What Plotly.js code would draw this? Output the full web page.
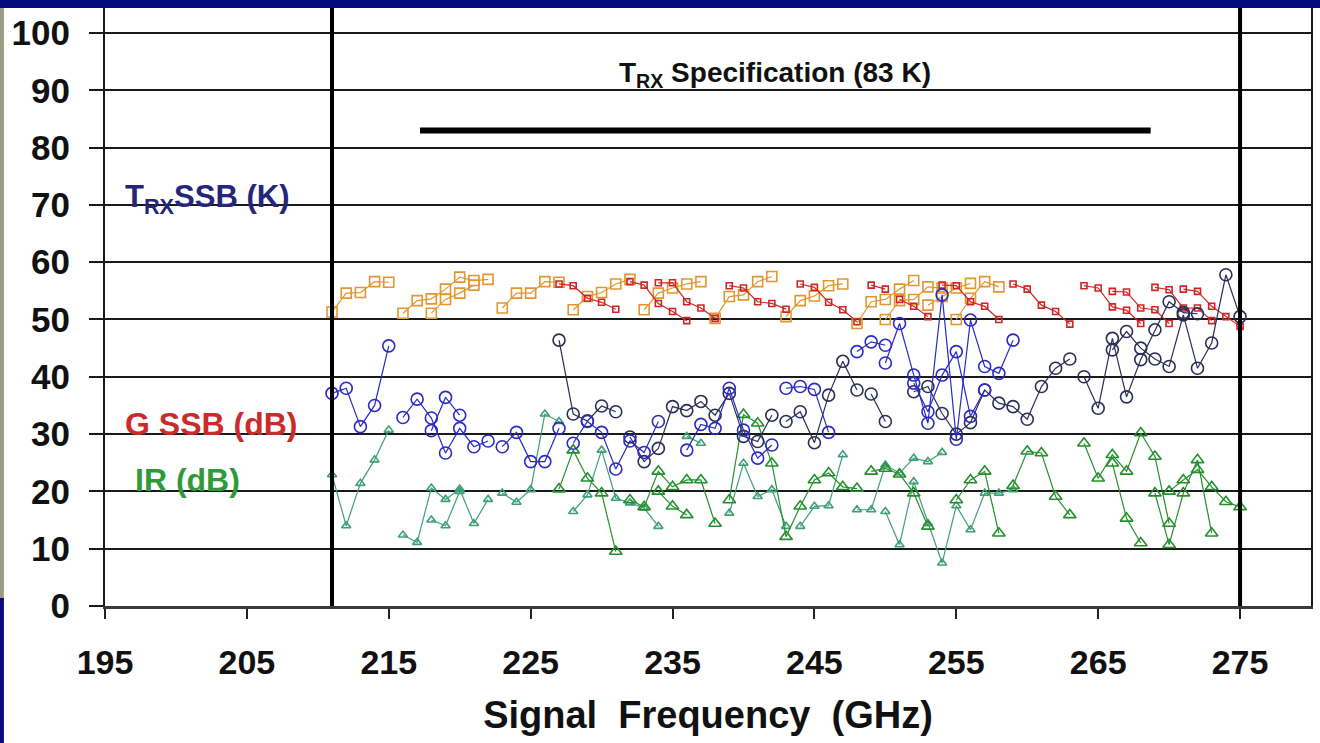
<!DOCTYPE html>
<html>
<head>
<meta charset="utf-8">
<script src="https://cdn.plot.ly/plotly-3.0.1.min.js"></script>
<style>
  html, body { margin: 0; padding: 0; background: #ffffff; }
  #chart { width: 1320px; height: 743px; }
</style>
</head>
<body>
<div id="chart"></div>
<script>
// ---------------- DATA ----------------
// null separates individual LO sweeps (line segments)

// Receiver noise temperature T_RX SSB (K), bright blue sweeps
const trxBlueGHz = [211,212,213,214,215,null, 216,217,218,219,220,221,222,null, 218,219,220,null,
  223,224,225,226,227,null, 228,229,230,231,232,233,234,null, 236,237,238,239,240,241,242,null,
  243,244,245,246,null, 248,249,250,null, 250,251,252,253,254,255,256,257,258,259,null,
  252,253,254,255,256,257];
const trxBlueK = [37.1,38.0,31.3,35.0,45.4,null, 32.9,36.1,32.8,26.7,31.0,27.8,28.8,null, 30.6,36.4,33.3,null,
  27.8,30.3,25.2,25.2,31.0,null, 28.4,32.2,30.3,23.9,28.8,26.8,32.2,null, 27.2,31.7,31.0,38.0,30.7,25.8,28.1,null,
  38.0,38.3,37.8,30.3,null, 44.4,46.1,45.5,null, 42.4,49.3,40.3,31.9,54.3,29.1,49.9,41.8,40.6,46.4,null,
  38.9,33.9,40.3,44.4,33.1,37.7];

// T_RX SSB (K), dark navy sweeps
const trxDarkGHz = [227,228,229,230,231,null, 232,233,234,235,236,237,238,239,240,241,242,null,
  243,244,245,246,247,248,null, 249,250,null, 252,253,254,255,256,257,258,259,260,261,262,263,null,
  264,265,266,267,268,269,270,271,272,null, 266,267,268,269,270,271,272,273,274,275];
const trxDarkK = [46.4,33.5,32.3,34.9,33.9,null, 29.5,25.2,27.5,34.8,34.1,35.7,33.3,37.1,29.6,28.7,33.3,null,
  32.2,33.9,28.5,36.8,42.7,37.7,null, 37.0,32.2,null, 37.4,38.3,33.6,30.0,32.0,37.7,35.4,34.8,32.6,38.3,41.5,43.1,null,
  40.0,34.5,46.7,36.5,43.0,48.2,53.1,51.2,51.0,null, 44.7,47.9,45.0,43.1,41.8,50.8,41.5,45.9,57.8,50.5];

// Gain G SSB (dB), orange sweeps
const gainOrangeGHz = [211,212,213,214,215,null, 216,217,218,219,220,221,222,null, 218,219,220,221,null,
  223,224,225,226,227,null, 228,229,230,231,232,null, 233,234,235,236,237,null, 238,239,240,241,242,null,
  243,244,245,246,247,null, 248,249,250,251,252,null, 250,251,252,253,254,null, 253,254,255,256,null,
  255,256,257,258];
const gainOrangeDb = [51.3,54.6,54.7,56.6,56.5,null, 51.1,53.3,53.6,55.3,57.4,56.8,57.0,null, 51.1,53.5,54.6,56.0,null,
  52.0,54.6,54.6,56.6,56.5,null, 51.7,54.0,54.7,56.2,57.0,null, 51.7,54.6,55.5,56.2,56.6,null, 50.2,54.0,54.3,56.6,57.5,null,
  50.5,53.3,54.1,55.9,56.2,null, 49.3,53.1,53.5,55.3,56.8,null, 50.0,53.3,53.5,55.7,55.5,null, 52.5,54.0,55.5,56.3,null,
  50.0,53.7,56.6,55.7];

// G SSB (dB), red sweeps
const gainRedGHz = [227,228,229,230,231,null, 232,233,234,235,236,null, 234,235,236,237,238,null,
  239,240,241,242,243,null, 244,245,246,247,248,null, 249,250,null, 251,252,253,null,
  254,255,256,257,258,null, 259,260,261,262,263,null, 264,265,266,267,268,null, 266,267,268,269,270,null,
  269,270,271,272,273,null, 271,272,273,274,275];
const gainRedDb = [56.2,55.9,53.7,53.0,51.8,null, 56.6,56.0,52.8,51.4,49.8,null, 56.4,56.4,53.1,52.0,50.2,null,
  55.9,55.5,53.1,52.8,51.8,null, 56.2,55.6,53.0,51.7,49.6,null, 56.0,55.3,null, 53.5,52.3,50.5,null,
  56.0,55.9,53.1,52.3,50.0,null, 56.2,55.3,52.5,51.4,49.2,null, 55.9,55.5,52.2,51.6,49.3,null, 54.9,54.8,52.0,51.7,49.3,null,
  55.6,55.2,52.0,52.0,49.8,null, 55.3,54.9,52.3,50.5,48.8];

// Image rejection IR (dB), dark green sweeps
const irGreenGHz = [227,228,229,230,231,null, 232,233,234,235,236,237,238,null, 234,235,236,null,
  239,240,241,242,243,244,245,246,247,248,null, 249,250,251,252,253,null, 255,256,257,258,null,
  259,260,261,262,263,null, 264,265,266,267,268,269,270,null, 266,267,268,null,
  269,270,271,272,273,null, 270,271,272,273,274,275];
const irGreenDb = [20.4,27.2,22.3,19.7,9.5,null, 18.5,17.3,23.5,20.8,22.0,22.0,14.4,null, 20.0,17.4,15.9,null,
  18.5,33.4,31.9,24.9,12.1,17.4,22.0,23.2,20.8,20.5,null, 23.5,24.0,23.0,19.7,13.9,null, 18.5,22.0,23.5,12.7,null,
  21.0,27.0,26.7,19.1,15.9,null, 28.4,22.3,26.4,23.5,30.2,26.1,14.4,null, 24.9,15.3,11.0,null,
  19.7,10.7,19.7,25.5,12.7,null, 20.0,22.0,23.8,20.8,18.2,17.3];

// IR (dB), teal-green sweeps
const irTealGHz = [211,212,213,214,215,null, 216,217,218,219,220,221,222,null, 218,219,220,null,
  223,224,225,226,227,null, 228,229,230,231,232,233,234,null, 236,237,null, 239,240,241,242,243,null,
  244,245,246,247,null, 248,249,250,251,252,253,254,null, 250,251,252,253,254,255,256,257,258,259];
const irTealDb = [22.9,14.0,21.4,25.5,30.7,null, 12.4,11.1,20.6,18.6,20.4,14.4,18.6,null, 15.0,14.0,20.0,null,
  19.7,18.1,20.3,33.5,32.2,null, 16.5,19.4,27.2,18.8,18.0,17.1,13.9,null, 29.6,28.4,null, 16.2,24.9,19.1,20.3,13.9,null,
  13.9,17.4,17.5,26.4,null, 16.8,16.8,24.6,23.2,25.8,25.2,26.8,null, 16.5,10.7,21.7,14.4,7.5,17.5,13.3,19.7,19.7,20.3];

// T_RX specification and band edges
const specValueK = 83;
const specRangeGHz = [217.2, 268.7];
const bandEdgesGHz = [211, 275];

// axis ticks
const xTickVals = [195, 205, 215, 225, 235, 245, 255, 265, 275];
const yTickVals = [0, 10, 20, 30, 40, 50, 60, 70, 80, 90, 100];

// ---------------- CHART ----------------
const FONT = 'Liberation Sans, Arial, Helvetica, sans-serif';

function sweep(x, y, color, symbol, size, lw) {
  return {
    type: 'scatter', mode: 'lines+markers', x: x, y: y,
    connectgaps: false, cliponaxis: false, hoverinfo: 'x+y',
    line: { color: color, width: lw },
    marker: { symbol: symbol, size: size, color: color, line: { color: color, width: 1.6 } }
  };
}

const traces = [
  sweep(irTealGHz, irTealDb, '#3f9f76', 'triangle-up-open', 8, 1.2),
  sweep(irGreenGHz, irGreenDb, '#23902b', 'triangle-up-open', 11, 1.2),
  sweep(gainOrangeGHz, gainOrangeDb, '#e3962f', 'square-open', 10, 1.2),
  sweep(gainRedGHz, gainRedDb, '#d02525', 'square-open', 6, 1.2),
  sweep(trxDarkGHz, trxDarkK, '#2c2c58', 'circle-open', 12, 1.2),
  sweep(trxBlueGHz, trxBlueK, '#2a2ac4', 'circle-open', 12, 1.2),
  {
    type: 'scatter', mode: 'lines', x: specRangeGHz, y: [specValueK, specValueK],
    line: { color: '#000000', width: 6 }, hoverinfo: 'skip'
  }
];

const shapes = bandEdgesGHz.map(f => ({
  type: 'line', xref: 'x', yref: 'paper', x0: f, x1: f, y0: 0, y1: 1,
  line: { color: '#000000', width: 4 }, layer: 'above'
}));
// slide frame (blue header bar and left edge)
shapes.push({ type: 'rect', xref: 'paper', yref: 'paper', x0: -0.1, x1: 1.1, y0: 1.0, y1: 1.03,
  fillcolor: '#030b7e', line: { width: 0 } });
shapes.push({ type: 'rect', xref: 'paper', yref: 'paper', x0: -0.0875, x1: -0.0838, y0: 0.0134, y1: 1.0,
  fillcolor: '#9c9c86', line: { width: 0 } });
shapes.push({ type: 'rect', xref: 'paper', yref: 'paper', x0: -0.0875, x1: -0.0838, y0: -0.25, y1: 0.0134,
  fillcolor: '#0a0a80', line: { width: 0 } });

const annotations = [
  { x: 242.2, y: 92.7, xref: 'x', yref: 'y', showarrow: false,
    text: 'T<sub>RX</sub> Specification (83 K)',
    font: { family: FONT, size: 28, color: '#111111', weight: 'bold' } },
  { x: 202.2, y: 71.0, xref: 'x', yref: 'y', showarrow: false,
    text: 'T<sub>RX</sub>SSB (K)',
    font: { family: FONT, size: 31, color: '#25257a', weight: 'bold' } },
  { x: 202.5, y: 31.8, xref: 'x', yref: 'y', showarrow: false,
    text: 'G SSB (dB)',
    font: { family: FONT, size: 32, color: '#cc2b2b', weight: 'bold' } },
  { x: 200.8, y: 22.0, xref: 'x', yref: 'y', showarrow: false,
    text: 'IR (dB)',
    font: { family: FONT, size: 32, color: '#2f9a3a', weight: 'bold' } }
];

const layout = {
  width: 1320, height: 743,
  margin: { l: 105, r: 9, t: 8, b: 137, pad: 0 },
  paper_bgcolor: '#ffffff', plot_bgcolor: '#ffffff',
  showlegend: false,
  font: { family: FONT, color: '#111111' },
  xaxis: {
    range: [195, 280], tickvals: xTickVals, ticktext: xTickVals.map(String),
    showgrid: false, zeroline: false,
    showline: true, linecolor: '#3a3a3a', linewidth: 3,
    ticks: 'outside', ticklen: 10, tickwidth: 2, tickcolor: '#222222',
    ticklabelstandoff: 14,
    tickfont: { family: FONT, size: 34, color: '#111111', weight: 'bold' },
    title: { text: 'Signal\u00a0 Frequency\u00a0 (GHz)', standoff: 22,
      font: { family: FONT, size: 38, color: '#111111', weight: 'bold' } }
  },
  yaxis: {
    range: [0, 104.36], tickvals: yTickVals, ticktext: yTickVals.map(String),
    showgrid: true, gridcolor: '#1a1a1a', gridwidth: 2,
    zeroline: false, showline: true, mirror: true, linecolor: '#1a1a1a', linewidth: 2,
    ticks: 'outside', ticklen: 14, tickwidth: 2, tickcolor: '#1a1a1a',
    ticklabelstandoff: 12,
    tickfont: { family: FONT, size: 35, color: '#111111', weight: 'bold' }
  },
  shapes: shapes,
  annotations: annotations
};

Plotly.newPlot('chart', traces, layout, { displayModeBar: false, staticPlot: true });
</script>
</body>
</html>
